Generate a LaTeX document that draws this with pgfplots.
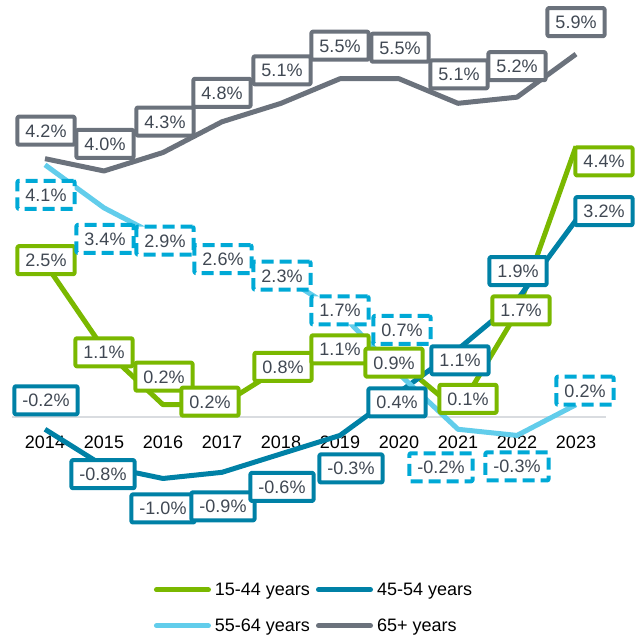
\documentclass[border=0pt]{standalone}
\usepackage{pgfplots}
\pgfplotsset{compat=1.18}
\usepackage{pgfplotstable}
\usepackage{fontspec}
\setmainfont{Liberation Sans}
\definecolor{cgreen}{HTML}{7AB800}
\definecolor{cteal}{HTML}{0081A6}
\definecolor{clight}{HTML}{62CDEB}
\definecolor{cdash}{HTML}{00A9D6}
\definecolor{cgray}{HTML}{6B727C}
\definecolor{ctext}{HTML}{404853}
\definecolor{czero}{HTML}{D9DCE0}

% x = year, y = value (%), dx/dy = label offset from point (pt)
\pgfplotstableread{
x y dx dy
2014 2.5 1 3
2015 1.1 0 -3
2016 0.2 1 28
2017 0.2 -12 3
2018 0.8 2 1
2019 1.1 0 0
2020 0.9 -5 -1
2021 0.1 10 12
2022 1.7 4 2
2023 4.4 28 -15
}\tA
\pgfplotstableread{
x y dx dy
2014 -0.2 1 29
2015 -0.8 -1 -8
2016 -1.0 0 -30
2017 -0.9 1 -34
2018 -0.6 1 -33
2019 -0.3 11 -33
2020 0.4 -2 -10
2021 1.1 2 -11
2022 1.9 1 29
2023 3.2 28 9
}\tB
\pgfplotstableread{
x y dx dy
2014 4.1 1 -30
2015 3.4 1 -31
2016 2.9 2 -2
2017 2.6 1 -2
2018 2.3 1 0
2019 1.7 0 2
2020 0.7 3 44
2021 -0.2 -17 -38
2022 -0.3 0 -31
2023 0.2 9 14
}\tC
\pgfplotstableread{
x y dx dy
2014 4.2 1 28
2015 4.0 1 27
2016 4.3 2 31
2017 4.8 0 29
2018 5.1 1 33
2019 5.5 0 33
2020 5.5 1 31
2021 5.1 1 29
2022 5.2 0 31
2023 5.9 0 32
}\tD

\pgfplotsset{
  lbl/.style={
    draw=none, forget plot,
    nodes near coords={\pgfmathprintnumber[fixed,fixed zerofill,precision=1,assume math mode=true]{\pgfplotspointmeta}\%},
    point meta=y,
    visualization depends on={\thisrow{dx} \as \dx},
    visualization depends on={\thisrow{dy} \as \dy},
    nodes near coords style={anchor=center, xshift=\dx pt, yshift=\dy pt,
      fill=white, draw=#1, solid, line width=4pt, rounded corners=1pt, text=ctext,
      inner xsep=8pt, inner ysep=0pt, minimum height=28pt,
      text height=13pt, text depth=0pt},
  },
}

\begin{document}
\begin{tikzpicture}[font=\fontsize{18}{21.6}\selectfont]
\begin{axis}[
  scale only axis, width=590pt, height=527.67pt,
  xmin=2013.5, xmax=2023.5, ymin=-1.8, ymax=6.78,
  axis x line=middle, axis y line=none,
  x axis line style={draw=czero, line width=2pt, -, shorten <=-3pt},
  xtick={2014,2015,2016,2017,2018,2019,2020,2021,2022,2023},
  xticklabels={2014,2015,2016,2017,2018,2019,2020,2021,2022,2023},
  major tick length=0pt, tick style={draw=none},
  xticklabel style={anchor=center, yshift=-25pt, text=black},
  clip=false,
  legend columns=2, legend cell align=left,
  legend style={at={(0.5,0)}, anchor=north, yshift=-54pt, xshift=3pt,
    draw=none, fill=none, inner sep=0pt, row sep=20pt,
    nodes={inner sep=1pt},
    /tikz/every odd column/.append style={column sep=3pt},
    /tikz/every even column/.append style={column sep=5pt}},
  legend image code/.code={\draw[line width=5pt, line cap=round] (0pt,0pt) -- (52pt,0pt);},
  every axis plot/.append style={line width=5pt, line join=round},
]
\addplot[cgreen, mark=none] table[x=x,y=y] {\tA};
\addlegendentry{15-44 years}
\addplot[cteal, mark=none] table[x=x,y=y] {\tB};
\addlegendentry{45-54 years}
\addplot[clight, mark=none] table[x=x,y=y] {\tC};
\addlegendentry{55-64 years}
\addplot[cgray, mark=none] table[x=x,y=y] {\tD};
\addlegendentry{65+ years}

\addplot[lbl=cgreen] table[x=x,y=y] {\tA};
\addplot[lbl=cteal] table[x=x,y=y] {\tB};
\addplot[lbl=cdash, nodes near coords style={dash pattern=on 12pt off 6pt}] table[x=x,y=y] {\tC};
\addplot[lbl=cgray] table[x=x,y=y] {\tD};
\end{axis}
\pgfresetboundingbox
\path ([xshift=-15.5pt]current axis.north west) rectangle ([xshift=31.5pt,yshift=-106.33pt]current axis.south east);
\end{tikzpicture}
\end{document}
